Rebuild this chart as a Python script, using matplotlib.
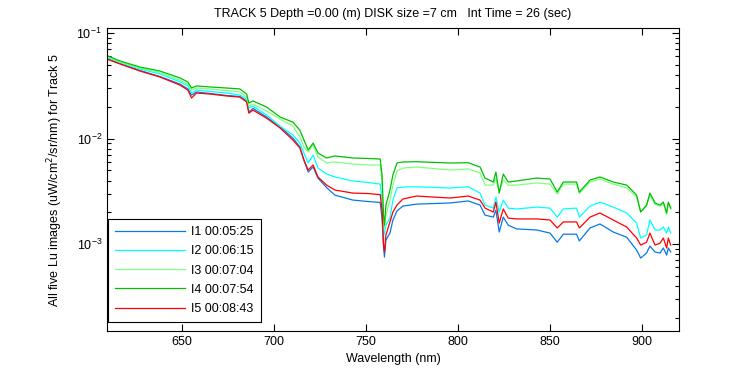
import matplotlib
matplotlib.use("Agg")
import matplotlib.pyplot as plt
from matplotlib.ticker import LogLocator, FixedLocator

plt.rcParams['font.family'] = ['Liberation Sans', 'DejaVu Sans']

wavelength = [610.0, 616.5, 627.4, 638.2, 649.1, 653.4, 655.4, 658.1, 665.4, 674.4,
              681.6, 685.3, 686.5, 688.7, 696.1, 703.4, 710.4, 714.2, 716.4, 718.7,
              721.4, 724.0, 728.7, 733.2, 743.0, 751.1, 757.8, 758.8, 759.6, 760.1,
              760.9, 763.1, 764.7, 766.9, 770.1, 777.6, 795.7, 805.6, 812.0, 814.7,
              819.2, 820.6, 822.4, 824.6, 827.3, 831.9, 842.7, 850.0, 853.9, 857.2,
              864.4, 865.9, 871.7, 877.1, 884.3, 891.6, 897.0, 899.2, 902.4, 904.2,
              907.0, 909.7, 911.5, 913.3, 914.2, 915.5]

lu_i1 = [0.0567, 0.0514, 0.0441, 0.0387, 0.0328, 0.0295, 0.0258, 0.0276, 0.0267, 0.0256,
         0.0250, 0.0227, 0.0178, 0.0193, 0.0160, 0.0129, 0.0101, 0.00831, 0.00625, 0.00481,
         0.00537, 0.00422, 0.00343, 0.00291, 0.00261, 0.00253, 0.00248, 0.00176, 0.000978, 0.000753,
         0.00109, 0.00127, 0.00169, 0.00206, 0.00229, 0.00239, 0.00245, 0.00256, 0.00234, 0.00188,
         0.00180, 0.00210, 0.00130, 0.00180, 0.00151, 0.00139, 0.00136, 0.00127, 0.00104, 0.00124,
         0.00124, 0.00107, 0.00142, 0.00155, 0.00130, 0.00116, 0.000877, 0.000737, 0.000822, 0.000957,
         0.000840, 0.000822, 0.000917, 0.000786, 0.000917, 0.000840]

lu_i2 = [0.0584, 0.0525, 0.0456, 0.0409, 0.0345, 0.0315, 0.0270, 0.0288, 0.0279, 0.0270,
         0.0258, 0.0237, 0.0195, 0.0203, 0.0167, 0.0131, 0.0108, 0.00906, 0.00729, 0.00586,
         0.00698, 0.00525, 0.00461, 0.00432, 0.00396, 0.00383, 0.00370, 0.00261, 0.00122, 0.00127,
         0.00151, 0.00176, 0.00261, 0.00340, 0.00347, 0.00349, 0.00340, 0.00349, 0.00304, 0.00234,
         0.00219, 0.00279, 0.00201, 0.00261, 0.00219, 0.00215, 0.00224, 0.00219, 0.00180, 0.00215,
         0.00219, 0.00180, 0.00229, 0.00250, 0.00224, 0.00197, 0.00158, 0.00114, 0.00122, 0.00169,
         0.00136, 0.00136, 0.00145, 0.00127, 0.00145, 0.00127]

lu_i3 = [0.0592, 0.0531, 0.0466, 0.0423, 0.0358, 0.0328, 0.0288, 0.0301, 0.0295, 0.0285,
         0.0276, 0.0247, 0.0203, 0.0212, 0.0182, 0.0153, 0.0131, 0.0104, 0.00831, 0.00745,
         0.00868, 0.00668, 0.00586, 0.00599, 0.00573, 0.00561, 0.00561, 0.00404, 0.00151, 0.00142,
         0.00188, 0.00261, 0.00362, 0.00492, 0.00525, 0.00537, 0.00503, 0.00514, 0.00471, 0.00362,
         0.00362, 0.00422, 0.00311, 0.00404, 0.00362, 0.00362, 0.00379, 0.00370, 0.00298, 0.00370,
         0.00370, 0.00301, 0.00387, 0.00413, 0.00370, 0.00340, 0.00279, 0.00201, 0.00229, 0.00291,
         0.00237, 0.00229, 0.00245, 0.00192, 0.00245, 0.00215]

lu_i4 = [0.0605, 0.0543, 0.0476, 0.0436, 0.0375, 0.0343, 0.0301, 0.0315, 0.0308, 0.0301,
         0.0295, 0.0264, 0.0217, 0.0227, 0.0199, 0.0160, 0.0143, 0.0120, 0.00968, 0.00778,
         0.00906, 0.00729, 0.00654, 0.00683, 0.00654, 0.00647, 0.00639, 0.00451, 0.00188, 0.00151,
         0.00234, 0.00325, 0.00451, 0.00586, 0.00599, 0.00603, 0.00586, 0.00590, 0.00537, 0.00422,
         0.00387, 0.00481, 0.00304, 0.00461, 0.00387, 0.00396, 0.00422, 0.00413, 0.00311, 0.00387,
         0.00387, 0.00311, 0.00404, 0.00432, 0.00387, 0.00362, 0.00291, 0.00201, 0.00234, 0.00304,
         0.00245, 0.00234, 0.00250, 0.00197, 0.00250, 0.00219]

lu_i5 = [0.0561, 0.0509, 0.0436, 0.0383, 0.0321, 0.0288, 0.0242, 0.0270, 0.0264, 0.0253,
         0.0247, 0.0222, 0.0174, 0.0186, 0.0156, 0.0126, 0.00968, 0.00813, 0.00625, 0.00503,
         0.00561, 0.00432, 0.00362, 0.00325, 0.00304, 0.00301, 0.00294, 0.00210, 0.000978, 0.000840,
         0.00122, 0.00162, 0.00201, 0.00234, 0.00267, 0.00285, 0.00273, 0.00285, 0.00261, 0.00219,
         0.00201, 0.00250, 0.00158, 0.00215, 0.00176, 0.00173, 0.00173, 0.00169, 0.00142, 0.00162,
         0.00162, 0.00142, 0.00180, 0.00197, 0.00169, 0.00145, 0.00114, 0.000978, 0.00104, 0.00127,
         0.000978, 0.00102, 0.00114, 0.000917, 0.00114, 0.000978]

series = [lu_i1, lu_i2, lu_i3, lu_i4, lu_i5]
labels = ["I1 00:05:25", "I2 00:06:15", "I3 00:07:04", "I4 00:07:54", "I5 00:08:43"]
colors = ["#0A78E8", "#00FFFF", "#80FF80", "#00C000", "#FF0000"]

fig = plt.figure(figsize=(7.5, 3.75), dpi=100)
ax = fig.add_axes([107/750, 44/375, 572/750, 303/375])

for vals, lab, col in zip(series, labels, colors):
    ax.plot(wavelength, vals, color=col, lw=0.9, label=lab)

ax.set_yscale('log')
ax.set_xlim(609.5, 920)
ax.set_ylim(1.5e-4, 0.1115)
ax.xaxis.set_major_locator(FixedLocator([650, 700, 750, 800, 850, 900]))
ax.yaxis.set_major_locator(FixedLocator([1e-3, 1e-2, 1e-1]))
ax.yaxis.set_minor_locator(LogLocator(base=10, subs=range(2, 10), numticks=20))
ax.tick_params(which='both', direction='in', top=True, right=True, labelsize=9, width=0.8)
ax.tick_params(which='major', length=5)
ax.tick_params(which='minor', length=3)
for s in ax.spines.values():
    s.set_linewidth(0.8)

ax.set_xlabel("Wavelength (nm)", fontsize=9, labelpad=4)
ax.set_ylabel("All five Lu images (uW/cm$^2$/sr/nm) for Track 5", fontsize=9, labelpad=8)
ax.set_title("TRACK 5 Depth =0.00 (m) DISK size =7 cm   Int Time = 26 (sec)", fontsize=9, pad=8)

leg = ax.legend(loc='lower left', bbox_to_anchor=(0.002, 0.03), borderaxespad=0,
                fancybox=False, framealpha=1, edgecolor='black', fontsize=9,
                handlelength=5.6, labelspacing=0.58, borderpad=0.55, handletextpad=0.5)
leg.get_frame().set_linewidth(0.8)

fig.savefig("out.png", dpi=100)
